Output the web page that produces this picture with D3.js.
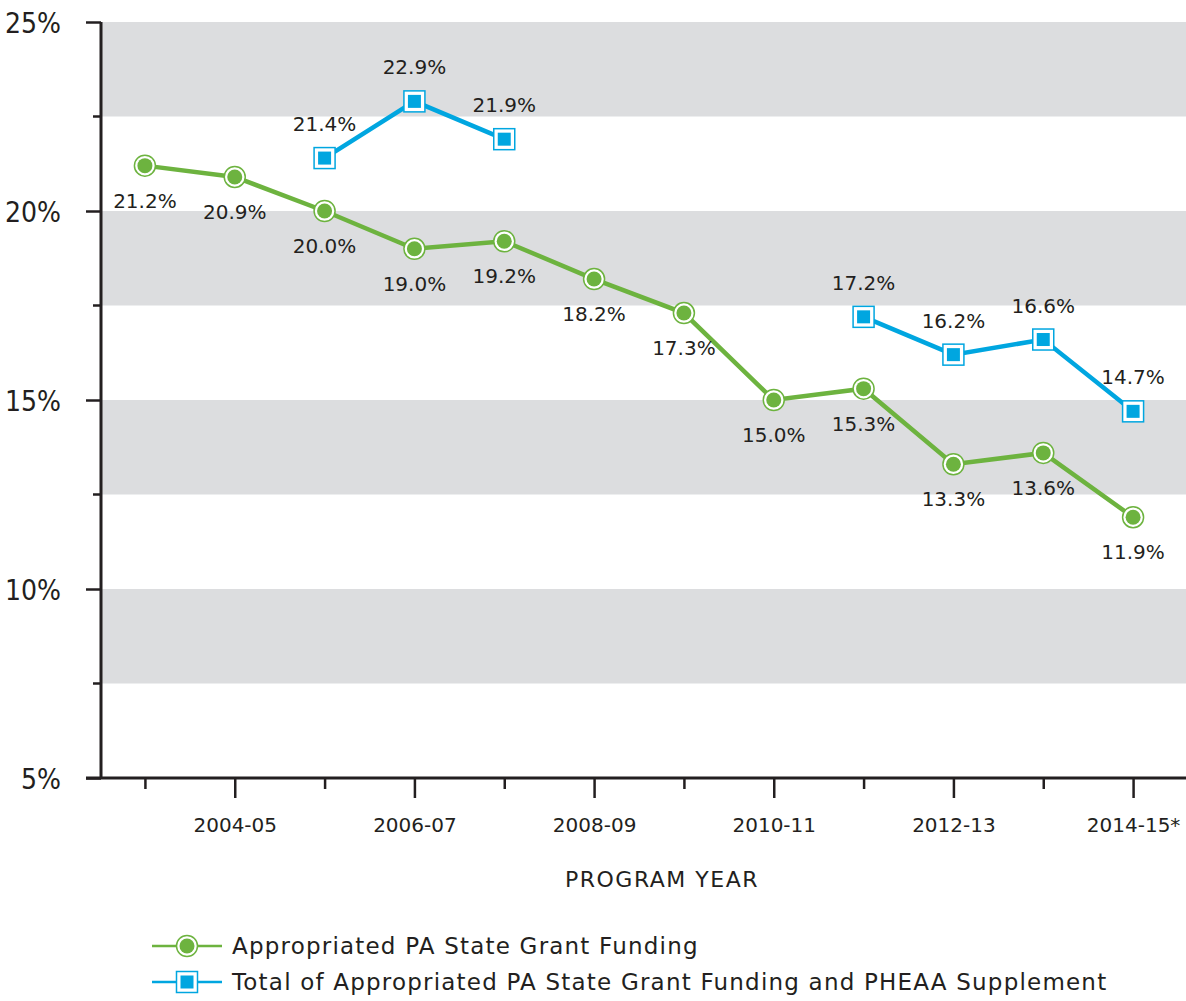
<!DOCTYPE html>
<html>
<head>
<meta charset="utf-8">
<script src="https://cdn.jsdelivr.net/npm/d3@7"></script>
<style>
body { margin:0; background:#fff; }
text { font-family: "DejaVu Sans", sans-serif; fill:#231f20; }
</style>
</head>
<body>
<div id="chart"></div>
<script>
// dati
var anni = ["2003-04","2004-05","2005-06","2006-07","2007-08","2008-09","2009-10","2010-11","2011-12","2012-13","2013-14","2014-15*"];
var anniEtichetta = ["2004-05","2006-07","2008-09","2010-11","2012-13","2014-15*"];
var verde = [21.2, 20.9, 20.0, 19.0, 19.2, 18.2, 17.3, 15.0, 15.3, 13.3, 13.6, 11.9];
var blu = [null, null, 21.4, 22.9, 21.9, null, null, null, 17.2, 16.2, 16.6, 14.7];
var fasce = [[22.5,25],[17.5,20],[12.5,15],[7.5,10]];
var tickY = [5, 10, 15, 20, 25];
var nomiSerie = ["Appropriated PA State Grant Funding", "Total of Appropriated PA State Grant Funding and PHEAA Supplement"];

var larghezza = 1186, altezza = 1001;
var colVerde = "#6db33f", colBlu = "#00a6e0", colAsse = "#231f20";

var svg = d3.select("#chart").append("svg")
  .attr("width", larghezza).attr("height", altezza);

var x = d3.scalePoint().domain(anni).range([100, 1178]).padding(0.5);
var y = d3.scaleLinear().domain([5, 25]).range([778, 22]);

// fasce grigie
svg.selectAll("rect.fascia").data(fasce).enter().append("rect")
  .attr("class","fascia")
  .attr("x", 101).attr("width", larghezza - 101)
  .attr("y", function(d){ return y(d[1]); })
  .attr("height", function(d){ return y(d[0]) - y(d[1]); })
  .attr("fill", "#dcdddf");

// asse y
var assey = svg.append("g").attr("transform","translate(101,0)")
  .call(d3.axisLeft(y).tickValues(tickY).tickSize(15).tickFormat(function(d){ return d + "%"; }));
assey.select(".domain").remove();
assey.selectAll("line").attr("stroke", colAsse).attr("stroke-width", 2.5);
assey.selectAll("text").attr("x", -40).style("font-size","28px")
  .style("font-family","'DejaVu Sans Condensed','DejaVu Sans',sans-serif")
  .style("font-stretch","condensed")
  .attr("dy","0.36em").attr("fill", colAsse);
var minori = d3.range(7.5, 25, 5);
svg.selectAll("line.minore").data(minori).enter().append("line")
  .attr("x1", 93).attr("x2", 101)
  .attr("y1", function(d){ return y(d); }).attr("y2", function(d){ return y(d); })
  .attr("stroke", colAsse).attr("stroke-width", 2.5);
svg.append("line").attr("x1",101).attr("x2",101).attr("y1",y(25)).attr("y2",y(5)+1)
  .attr("stroke", colAsse).attr("stroke-width", 3);

// asse x
var assex = svg.append("g").attr("transform","translate(0," + y(5) + ")")
  .call(d3.axisBottom(x).tickSize(10).tickFormat(function(d){ return anniEtichetta.indexOf(d) >= 0 ? d : ""; }));
assex.select(".domain").remove();
assex.selectAll("line").attr("stroke", colAsse).attr("stroke-width", 2.5)
  .attr("y2", function(d){ return anniEtichetta.indexOf(d) >= 0 ? 20 : 11; });
assex.selectAll("text").attr("y", 40).style("font-size","20px").attr("fill", colAsse);
svg.append("line").attr("x1",86).attr("x2",larghezza).attr("y1",y(5)).attr("y2",y(5))
  .attr("stroke", colAsse).attr("stroke-width", 3);

svg.append("text").attr("x", 662).attr("y", 887).attr("text-anchor","middle")
  .style("font-size","22px").style("letter-spacing","1.5px").text("PROGRAM YEAR");

// linee
var linea = d3.line()
  .defined(function(d){ return d != null; })
  .x(function(d,i){ return x(anni[i]); })
  .y(function(d){ return y(d); });

svg.append("path").datum(verde).attr("d", linea)
  .attr("fill","none").attr("stroke", colVerde).attr("stroke-width", 4.5);
svg.append("path").datum(blu).attr("d", linea)
  .attr("fill","none").attr("stroke", colBlu).attr("stroke-width", 4.5);

function cerchio(g, cx, cy){
  g.append("circle").attr("cx",cx).attr("cy",cy).attr("r",10.5)
    .attr("fill","#fff").attr("stroke",colVerde).attr("stroke-width",1.5);
  g.append("circle").attr("cx",cx).attr("cy",cy).attr("r",7.5).attr("fill",colVerde);
}
function quadrato(g, cx, cy){
  g.append("rect").attr("x",cx-10.5).attr("y",cy-10.5).attr("width",21).attr("height",21)
    .attr("fill","#fff").attr("stroke",colBlu).attr("stroke-width",1.5);
  g.append("rect").attr("x",cx-6.5).attr("y",cy-6.5).attr("width",13).attr("height",13).attr("fill",colBlu);
}

var gp = svg.append("g");
verde.forEach(function(v,i){
  cerchio(gp, x(anni[i]), y(v));
  gp.append("text").attr("x", x(anni[i])).attr("y", y(v) + 42)
    .attr("text-anchor","middle").style("font-size","20px").text(v.toFixed(1) + "%");
});
blu.forEach(function(v,i){
  if (v == null) return;
  quadrato(gp, x(anni[i]), y(v));
  gp.append("text").attr("x", x(anni[i])).attr("y", y(v) - 27)
    .attr("text-anchor","middle").style("font-size","20px").text(v.toFixed(1) + "%");
});

// legenda
var leg = svg.append("g");
[0,1].forEach(function(i){
  var yy = 946 + i * 36;
  var col = i == 0 ? colVerde : colBlu;
  leg.append("line").attr("x1",152).attr("x2",222).attr("y1",yy).attr("y2",yy)
    .attr("stroke", col).attr("stroke-width", 2.5);
  if (i == 0) cerchio(leg, 187, yy); else quadrato(leg, 187, yy);
  leg.append("text").attr("x", 232).attr("y", yy + 8).style("font-size","23px")
    .style("letter-spacing","1.2px").text(nomiSerie[i]);
});
</script>
</body>
</html>
